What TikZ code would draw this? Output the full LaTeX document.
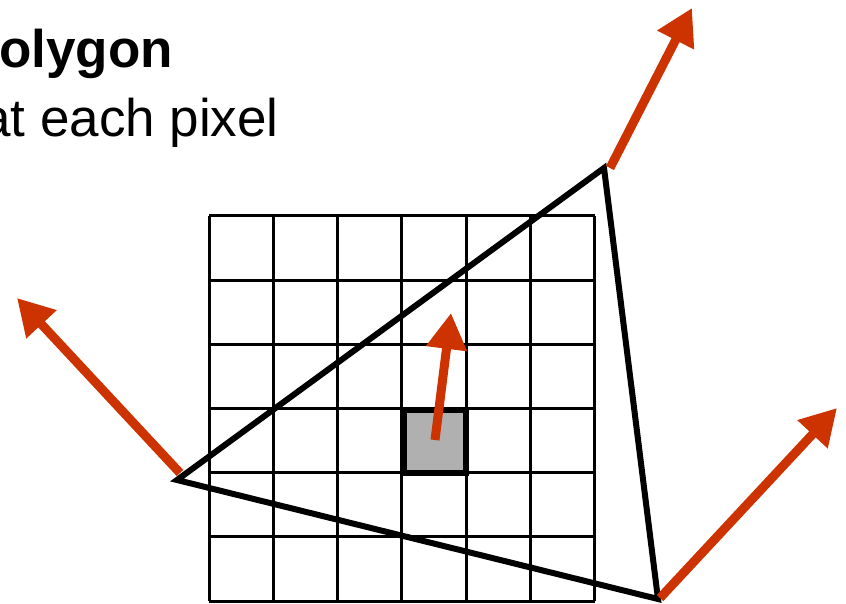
\documentclass[tikz,border=0pt]{standalone}
\usepackage{fontspec}
\setmainfont{Liberation Sans}
\usetikzlibrary{arrows.meta}
\definecolor{normred}{RGB}{204,51,0}
\definecolor{pixgray}{RGB}{176,176,176}
\begin{document}
\begin{tikzpicture}[x=1pt,y=-1pt,
  gridline/.style={line width=3pt,black},
  tri/.style={line width=6pt,black,line join=miter},
  pixbox/.style={line width=6pt,black,fill=pixgray},
  normal/.style={line width=9pt,normred,-{Triangle[width=39pt,length=36pt]}},
  label/.style={inner sep=0pt,font=\fontsize{53}{60}\selectfont}]
\useasboundingbox (0,0) rectangle (846,604);
% text
\node[label,anchor=base east,font=\fontsize{53}{60}\selectfont\bfseries] (t1) at (173,68) {Polygon};
\node[label,anchor=base east] (t2) at (279,137) {at each pixel};
% grid
\foreach \i in {0,...,6} {
  \draw[gridline] ({209+\i*64.33},216) -- ({209+\i*64.33},601);
  \draw[gridline] (209,{216+\i*64.17}) -- (595,{216+\i*64.17});
}
% highlighted pixel
\draw[pixbox] (404,409.5) rectangle (466,472.5);
% triangle
\coordinate (A) at (177,480);
\coordinate (B) at (604,168);
\coordinate (C) at (658,599);
\draw[tri] (A) -- (B) -- (C) -- cycle;
% normals
\coordinate (nA) at (17,298);
\coordinate (nB) at (692,8);
\coordinate (nC) at (837,408);
\coordinate (P) at (435,440);
\coordinate (nP) at (451,313);
\draw[normal] (180,473) -- (nA);
\draw[normal] (610,168) -- (nB);
\draw[normal] (660,598) -- (nC);
\draw[normal] (P) -- (nP);
\end{tikzpicture}
\end{document}
